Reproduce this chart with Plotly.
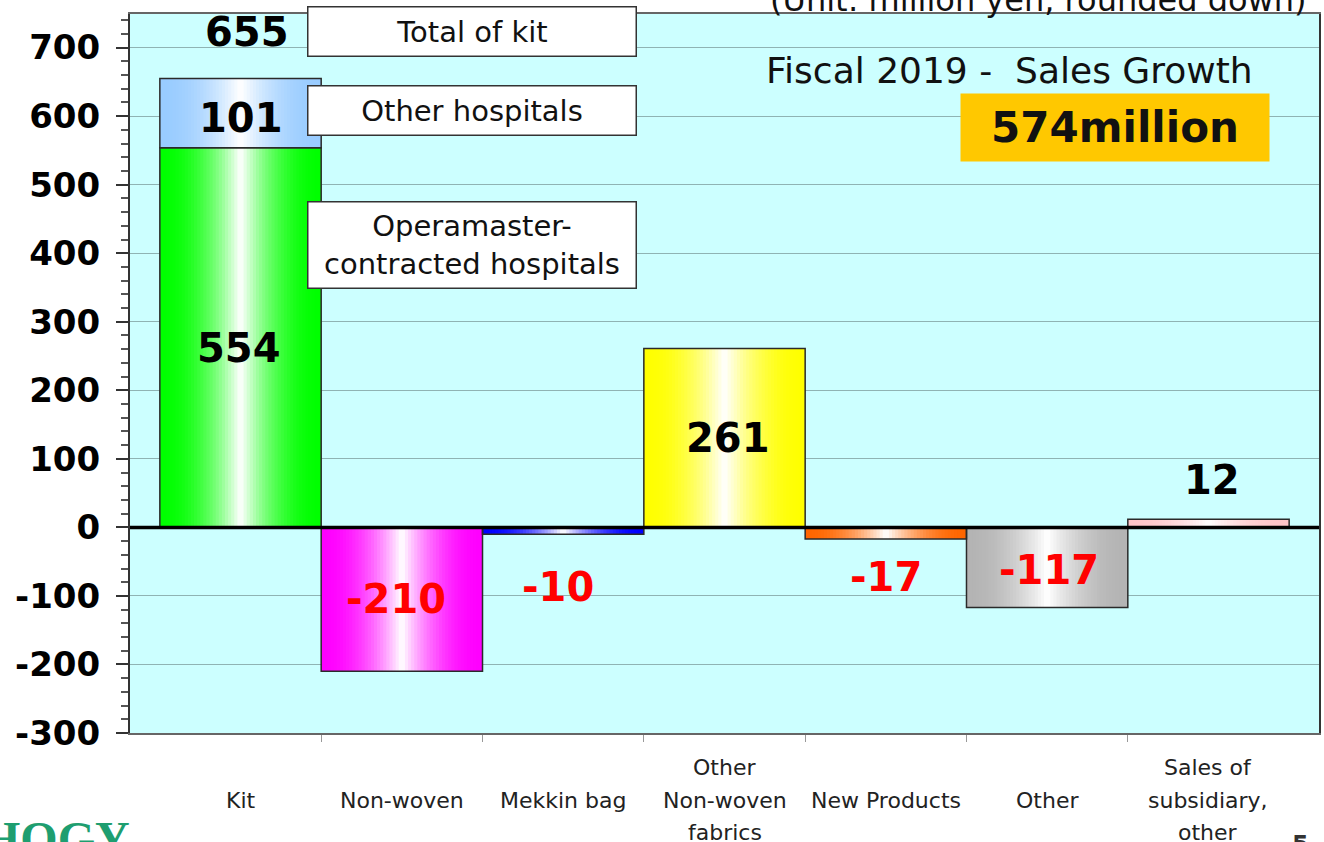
import plotly.graph_objects as go

# ---------------- data ----------------
categories = ["Kit", "Non-woven", "Mekkin bag", "Other<br>Non-woven<br>fabrics",
              "New Products", "Other", "Sales of<br>subsidiary,<br>other"]
growth = [655, -210, -10, 261, -17, -117, 12]          # sales growth by category
kit_parts = [554, 101]                                  # Operamaster-contracted, other hospitals
kit_part_names = ["Operamaster-<br>contracted hospitals", "Other hospitals"]
kit_total_name = "Total of kit"
total_growth = 574
y_ticks = list(range(-300, 701, 100))

# ---------------- styles ----------------
seg_colors = ["#00FF00", "#99CCFF", "#FF00FF", "#0000FF", "#FFFF00",
              "#FF6600", "#B4B4B4", "#FFC4C8"]
FONT = "DejaVu Sans"

# segments: kit split into two stacked parts, others single
seg_x = [0, 0] + list(range(1, len(categories)))
seg_base = [0, kit_parts[0]] + [0] * (len(categories) - 1)
seg_h = kit_parts + growth[1:]


def mix(c, t):
    r, g, b = int(c[1:3], 16), int(c[3:5], 16), int(c[5:7], 16)
    return "rgb(%d,%d,%d)" % (round(r + (255 - r) * t), round(g + (255 - g) * t),
                              round(b + (255 - b) * t))


fig = go.Figure()
N = 26
for k in range(N):
    w = 1 - k / N
    t = (k / (N - 1)) ** 2 * 0.97
    fig.add_bar(x=seg_x, y=seg_h, base=seg_base, width=w,
                marker=dict(color=[mix(c, t) for c in seg_colors], line_width=0),
                hoverinfo="skip", showlegend=False)
# outline
fig.add_bar(x=seg_x, y=seg_h, base=seg_base, width=1,
            marker=dict(color="rgba(0,0,0,0)", line=dict(color="#2a2a2a", width=1.5)),
            hoverinfo="skip", showlegend=False)

# zero line on top
fig.add_shape(type="line", xref="paper", x0=0, x1=1, yref="y", y0=0, y1=0,
              line=dict(color="black", width=3.5), layer="above")

ann = []
# value labels
kit_total = sum(kit_parts)
val_font = dict(family=FONT, size=40, weight="bold")
label_specs = [
    (0, kit_total, str(kit_total), "black", 6, 46),
    (0, kit_parts[0] + kit_parts[1] / 2, str(kit_parts[1]), "black", 0, -5),
    (0, kit_parts[0] / 2, str(kit_parts[0]), "black", -2, -10),
]
offsets = {1: (-6, 0), 2: (-5, -53), 3: (3, 0), 4: (0, -38), 5: (2, -3), 6: (4, 39)}
for i in range(1, len(categories)):
    v = growth[i]
    dx, dy = offsets[i]
    if abs(v) > 50:
        yv = v / 2
    else:
        yv = v
    label_specs.append((i, yv, str(v), "#FF0000" if v < 0 else "black", dx, dy))
for x, y, txt, col, dx, dy in label_specs:
    ann.append(dict(x=x, y=y, xref="x", yref="y", text=txt, showarrow=False,
                    xanchor="center", yanchor="middle", xshift=dx, yshift=dy,
                    font=dict(val_font, color=col)))

# boxed captions for kit
box_font = dict(family=FONT, size=29, color="#111")
for text, yc, h in [(kit_total_name, 723, 48), (kit_part_names[1], 608, 48),
                    (kit_part_names[0], 411.7, 85)]:
    ann.append(dict(x=1.432, y=yc, xref="x", yref="y", text=text, showarrow=False,
                    xanchor="center", yanchor="middle", width=327, height=h,
                    bgcolor="white", bordercolor="#333", borderwidth=1.5, borderpad=0,
                    font=box_font))

# title texts
ann.append(dict(x=4.764, y=666.5, xref="x", yref="y",
                text="Fiscal 2019 -&nbsp; Sales Growth", showarrow=False,
                font=dict(family=FONT, size=36, color="#111")))
ann.append(dict(x=5.421, y=583, xref="x", yref="y", text=f"{total_growth}million",
                showarrow=False, width=308, height=67, bgcolor="#FFC800", borderpad=0,
                font=dict(family=FONT, size=42, weight="bold", color="#111")))
ann.append(dict(x=0.5366, y=1, xref="paper", yref="paper",
                text="(Unit: million yen, rounded down)", showarrow=False,
                xanchor="left", yanchor="middle", yshift=14,
                font=dict(family=FONT, size=32, color="#111")))

# category labels (one annotation per line for spacing)
for i, cat in enumerate(categories):
    lines = cat.split("<br>")
    n = len(lines)
    for j, line in enumerate(lines):
        off = (j - (n - 1) / 2) * 32.5
        ann.append(dict(x=i, y=0, xref="x", yref="paper", text=line, showarrow=False,
                        xanchor="center", yanchor="middle", yshift=-67 - off,
                        font=dict(family=FONT, size=22, color="#222")))

# logo fragment and page number
ann.append(dict(x=0, y=0, xref="paper", yref="paper", text="HOGY", showarrow=False,
                xanchor="right", yanchor="middle", xshift=2, yshift=-105,
                font=dict(family="Liberation Serif", size=48, weight="bold",
                          color="#1E9E70")))
ann.append(dict(x=1, y=0, xref="paper", yref="paper", text="5", showarrow=False,
                xanchor="right", yanchor="top", xshift=-8, yshift=-96,
                font=dict(family=FONT, size=24, weight="bold", color="#333")))

fig.update_layout(
    width=1324, height=842,
    margin=dict(l=130, r=5, t=14, b=109, pad=0, autoexpand=False),
    paper_bgcolor="white", plot_bgcolor="#CCFFFF",
    barmode="overlay", showlegend=False,
    font=dict(family=FONT),
    annotations=ann,
    xaxis=dict(range=[-0.685, 6.685], tickmode="array", automargin=False,
               tickvals=[i + 0.5 for i in range(len(categories) - 1)],
               ticktext=[""] * (len(categories) - 1),
               ticks="outside", ticklen=7, tickcolor="#999", tickwidth=1,
               showgrid=False, zeroline=False, showline=True, linecolor="#666",
               linewidth=1.5, mirror=True),
    yaxis=dict(range=[-300, 749], tickmode="array", tickvals=y_ticks, automargin=False,
               ticktext=[str(v) for v in y_ticks],
               ticks="outside", ticklen=12, tickwidth=2, tickcolor="#333",
               tickfont=dict(family=FONT, size=34, weight="bold", color="black"),
               ticklabelstandoff=9,
               minor=dict(dtick=20, tick0=0, ticks="outside", ticklen=7,
                          tickcolor="#555", tickwidth=1.5, showgrid=False),
               showgrid=True, gridcolor="#8FB3B3", gridwidth=1,
               zeroline=False, showline=True, linecolor="#333", linewidth=2,
               mirror=True),
)

fig.write_html("out.html", config={"displayModeBar": False},
               post_script="document.body.style.margin='0';document.body.style.overflow='hidden';")
